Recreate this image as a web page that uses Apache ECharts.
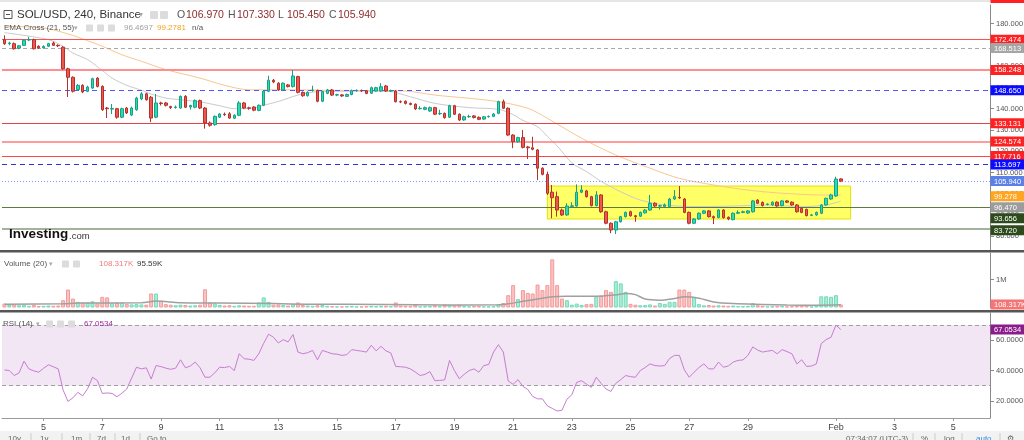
<!DOCTYPE html>
<html><head><meta charset="utf-8">
<script src="https://cdn.jsdelivr.net/npm/echarts@6/dist/echarts.min.js"></script>
<style>html,body{margin:0;padding:0;background:#fff}#c{width:1024px;height:440px}</style>
</head><body><div id="c"></div>
<script>
// ---- DATA (SOL/USD 4h candles, Jan 3 2022 16:00 onward) ----
const opens=[172.5,170.6,170.6,168.5,169.8,172.3,172.5,169.4,168.6,169.4,170.9,169.8,168.9,158.8,154.8,149.0,151.0,148.2,149.7,154.4,150.5,140.3,139.8,140.0,136.0,140.3,137.0,139.5,144.6,147.0,145.4,136.0,142.7,142.7,141.0,140.6,140.3,145.8,140.8,140.7,143.8,140.3,133.3,132.5,136.0,137.4,137.6,135.5,136.9,142.7,140.4,140.8,139.2,141.6,148.2,153.4,152.0,148.8,151.2,150.4,155.1,147.7,146.1,148.6,148.6,143.5,147.2,148.8,146.4,146.5,145.8,146.7,148.5,148.6,148.4,147.3,148.3,148.3,150.7,148.3,148.3,143.3,143.5,142.5,142.1,140.0,139.7,138.9,140.5,137.6,137.8,136.0,141.4,137.4,134.7,136.2,136.6,135.9,135.1,136.2,136.4,137.8,143.3,140.2,127.6,124.5,126.4,122.0,121.6,120.6,112.0,109.1,100.7,98.6,92.3,90.0,94.0,94.2,100.7,101.3,98.6,94.4,99.4,91.5,86.1,82.9,86.8,89.2,91.5,89.6,89.4,91.0,92.3,95.5,94.2,94.0,93.9,97.5,98.3,97.5,91.2,86.1,88.1,90.8,91.9,89.2,88.8,92.3,88.9,87.8,90.8,91.2,90.9,91.5,97.0,95.9,94.9,94.7,96.0,94.4,96.6,96.0,94.7,93.1,92.6,89.8,90.0,90.8,94.7,97.5,98.9,106.97];
const closes=[170.6,170.9,168.2,169.6,172.2,172.6,168.2,168.6,169.3,170.6,169.8,169.6,158.8,154.8,148.2,151.0,147.9,150.2,154.1,150.5,139.5,140.0,140.1,136.0,140.0,138.0,140.3,145.0,147.0,144.2,135.6,142.7,142.4,141.6,140.5,140.8,145.8,140.7,141.5,143.8,140.3,133.3,132.2,136.4,137.5,137.2,135.6,136.9,142.7,140.3,140.2,139.3,141.6,148.2,153.4,152.6,148.8,152.0,150.4,155.4,147.7,146.1,147.7,148.8,143.5,148.0,148.8,146.4,146.6,146.0,146.7,148.5,148.6,148.4,147.2,149.9,149.9,150.3,148.3,148.5,143.3,143.2,142.5,142.0,139.9,140.2,140.5,140.5,137.4,137.8,135.8,141.4,137.4,134.7,136.2,136.3,135.9,135.0,136.2,136.4,137.5,143.3,140.2,127.6,124.5,126.4,121.8,121.6,120.9,112.0,109.1,100.2,98.1,92.3,90.0,94.2,94.3,100.7,101.7,98.6,94.4,99.4,91.5,86.1,82.9,86.8,89.2,91.2,89.6,89.2,91.2,92.3,95.5,94.2,94.3,94.7,97.5,98.6,98.0,91.2,86.1,88.1,90.8,91.9,89.2,88.7,92.3,88.7,88.1,90.8,91.2,91.5,91.9,96.6,95.5,94.4,95.1,96.0,94.2,96.6,96.0,94.7,91.5,91.2,89.7,90.0,91.2,94.7,97.8,99.4,106.9,105.94];
const lows=[170.0,169.8,167.8,168.0,169.5,171.8,167.9,168.2,168.3,169.0,169.5,169.0,158.3,145.5,147.6,148.5,147.3,147.8,149.3,150.0,139.0,135.6,137.5,135.3,135.5,137.5,136.5,139.0,144.0,143.8,133.7,135.5,141.5,141.0,139.8,140.0,140.0,140.3,139.6,140.2,139.8,130.6,131.5,132.0,135.6,136.6,135.2,135.1,136.5,139.8,139.5,138.8,138.8,141.2,147.8,152.0,148.4,148.3,150.0,150.0,147.2,145.6,145.7,148.0,143.0,143.1,146.8,146.0,145.9,145.6,145.5,146.3,148.0,147.9,146.8,146.9,148.0,148.0,147.9,147.8,142.9,142.6,142.0,141.6,139.4,139.6,139.3,138.5,137.0,137.0,135.3,135.6,137.0,134.2,134.3,135.7,135.4,134.6,134.8,135.8,136.0,137.4,139.8,127.2,121.4,124.0,121.3,116.3,120.4,106.4,108.6,99.4,88.4,89.2,89.5,89.6,93.5,93.8,100.3,98.2,94.0,94.0,91.0,85.6,81.4,81.0,86.4,88.8,89.2,86.8,89.0,90.6,91.9,93.8,92.5,93.6,93.5,97.1,97.6,90.8,85.6,85.7,87.7,90.4,88.8,85.7,88.4,88.3,87.5,87.4,90.4,90.8,90.5,91.1,95.1,94.0,94.5,94.3,93.8,94.0,95.6,94.3,91.1,90.8,89.3,89.4,89.6,90.4,94.3,97.1,98.5,105.45];
const highs=[174.5,171.5,171.2,170.0,172.6,173.8,173.0,169.8,169.8,171.0,171.6,170.3,169.4,159.3,155.2,151.6,151.5,150.8,154.6,154.8,151.0,140.8,142.2,140.4,140.5,140.8,141.0,145.6,147.8,147.5,146.0,146.9,143.3,143.2,141.4,141.5,146.2,146.4,141.9,144.4,144.3,140.8,134.0,136.8,138.0,138.2,138.4,137.4,143.6,143.2,140.9,141.2,142.0,148.7,155.5,154.0,152.5,152.4,151.6,158.2,155.5,148.1,148.2,150.8,149.0,148.5,149.3,149.3,147.0,146.9,147.1,149.0,149.1,149.0,148.8,150.4,150.3,152.0,151.2,149.0,148.8,143.9,143.9,142.9,142.5,141.2,141.0,141.0,140.9,139.5,138.2,141.9,141.8,137.8,136.7,137.2,137.0,136.4,136.6,136.8,137.9,143.8,144.3,140.6,128.0,126.8,130.0,122.5,126.8,121.0,112.4,110.4,104.1,101.0,93.0,95.5,96.0,104.4,104.0,101.8,99.0,101.2,99.8,92.0,86.5,87.2,89.6,91.6,92.0,90.0,91.6,92.8,99.4,96.0,94.8,95.4,98.0,101.7,103.6,98.0,91.6,88.5,91.2,92.3,92.3,89.7,92.7,92.7,89.3,91.2,92.2,92.0,92.3,97.0,97.4,96.3,95.5,96.4,96.4,97.0,97.0,96.4,95.1,93.5,93.0,90.4,91.6,95.1,98.2,100.0,108.0,107.33];
const volumesK=[140,90,110,80,100,60,90,50,60,70,60,70,260,640,320,200,170,180,220,150,380,360,150,180,170,130,110,120,110,100,500,500,240,120,100,80,100,90,70,80,100,650,180,150,90,70,80,60,80,70,60,60,180,360,200,100,110,90,70,120,180,90,70,60,80,90,60,50,40,40,50,60,40,40,50,60,50,60,60,50,180,70,60,50,90,40,50,50,80,50,110,90,80,100,60,40,50,60,40,40,50,120,160,440,800,300,620,520,500,820,620,800,1720,800,320,260,100,140,90,120,130,400,420,620,560,940,860,560,130,100,80,90,110,70,160,130,200,200,640,640,560,380,120,80,90,70,80,70,60,70,50,50,60,160,80,60,40,50,50,60,40,50,70,60,80,40,60,400,400,380,440,108.317];
const volMA_K=[[0,120],[12,130],[15,160],[28,170],[31,230],[36,170],[44,160],[55,140],[62,120],[78,110],[90,90],[101,95],[103,130],[106,220],[109,300],[112,380],[115,400],[121,400],[125,450],[127,500],[129,460],[131,300],[134,260],[137,320],[139,380],[142,330],[145,200],[149,140],[155,110],[160,90],[166,80],[171,95.59]];
const rsi=[40.4,40.0,36.7,38.5,46.2,41.1,39.8,38.9,41.5,43.8,42.5,41.1,27.1,19.6,22.0,25.6,23.3,28.0,35.6,33.4,24.9,25.2,24.9,22.7,25.0,27.8,35.0,42.2,41.1,41.8,34.4,43.3,42.6,41.6,40.8,41.6,47.1,41.8,43.0,45.6,41.8,35.6,35.6,38.5,42.2,42.0,42.7,40.0,51.1,47.8,47.5,46.7,51.1,58.0,64.0,62.0,58.2,60.4,58.9,63.8,52.2,51.1,51.8,53.3,47.1,53.3,52.2,51.1,50.8,50.0,50.5,53.8,53.3,52.8,52.2,56.7,53.0,56.0,53.0,51.6,42.7,42.5,42.2,41.1,39.0,36.7,37.5,39.3,33.3,33.5,33.8,46.7,40.0,34.6,37.5,40.0,41.1,38.9,43.3,44.0,52.2,57.1,52.2,33.1,30.9,34.0,29.6,27.5,22.9,21.3,21.3,16.7,15.0,13.3,13.8,21.1,24.0,32.2,33.3,31.0,28.9,35.6,31.5,27.8,26.2,31.6,34.0,36.7,36.0,35.6,40.0,42.0,44.4,43.3,43.0,43.3,48.0,50.0,50.0,40.5,35.6,38.9,42.0,44.4,41.1,41.1,45.6,42.2,43.0,45.6,46.7,47.0,50.0,55.6,53.5,52.2,52.8,53.3,51.1,53.8,52.5,51.1,44.4,47.1,42.7,43.0,44.4,57.8,60.4,62.0,70.0,67.0534];
const ema21=[[0,175.8],[9,172.5],[12,169.4],[14,166.2],[17,163.1],[20,158.0],[22,154.4],[25,151.0],[28,148.7],[30,146.9],[33,145.0],[36,144.2],[40,143.2],[44,141.4],[47,140.0],[51,140.3],[53,141.6],[56,143.4],[60,146.4],[64,148.0],[70,148.2],[78,148.3],[83,145.6],[88,142.5],[95,140.5],[101,139.7],[104,137.2],[106,134.5],[109,131.5],[111,127.0],[113,122.5],[116,114.5],[119,110.4],[122,105.8],[126,100.9],[130,97.0],[135,94.7],[142,93.9],[149,94.2],[156,94.7],[163,93.9],[168,94.7],[171,96.4697]];
const ema55=[[0,178.8],[8,178.0],[13,175.2],[17,172.0],[20,169.4],[24,165.4],[28,162.3],[33,158.4],[40,154.4],[45,151.0],[50,148.9],[57,148.9],[65,148.7],[75,148.5],[82,148.3],[88,146.4],[95,144.9],[101,143.3],[107,140.2],[111,135.5],[118,126.1],[125,118.2],[132,112.0],[138,107.2],[145,104.1],[152,101.7],[159,100.2],[166,99.4],[171,99.2781]];
const levels=[172.474,168.513,158.248,148.650,133.131,124.574,117.716,113.697,105.940,93.656,83.720];
const emaLast=[99.278,96.470];
const zone={fromIdx:111,toIdx:173,top:103.6,bottom:88.1};
const priceTicks=[80,90,100,110,120,130,140,150,160,170,180];
const volTicks=[1000000];
const rsiTicks=[20,40,60];
const rsiBands=[30,70];
const lastRsi=67.0534, lastVol=108317;

// ---- styles ----
const levelStyle=[
 {c:'#ff4f4f',t:'solid',w:1,box:'#ff2121',dy:0},
 {c:'#a8a8a8',t:[4,3],w:1,box:'#a5a5a5',dy:0},
 {c:'#ff8f8f',t:'solid',w:2,box:'#ff2121',dy:0},
 {c:'#5656ff',t:[5,4],w:1.2,box:'#0b0bff',dy:0},
 {c:'#e24444',t:'solid',w:1,box:'#ff2121',dy:0},
 {c:'#ff7a7a',t:'solid',w:1.6,box:'#ff2121',dy:0},
 {c:'#ff4545',t:'solid',w:1,box:'#ff2121',dy:0},
 {c:'#3030d8',t:[5,4],w:1.2,box:'#0b0bff',dy:0},
 {c:'#7f97ff',t:[1,2],w:1,box:'#5b80e8',dy:0},
 {c:'#5d7b3c',t:'solid',w:1,box:'#2c4a1b',dy:11},
 {c:'#a3b29c',t:'solid',w:2,box:'#2c4a1b',dy:2}
];
const emaBoxStyle=[{box:'#ffa51f',dy:1},{box:'#9c9c9c',dy:6}];

const START=Date.UTC(2022,0,3,16), STEP=4*3600*1000, NCAT=202;
const cats=[];
for(let i=0;i<NCAT;i++){const d=new Date(START+i*STEP);
 cats.push(d.getUTCFullYear()+'-'+String(d.getUTCMonth()+1).padStart(2,'0')+'-'+String(d.getUTCDate()).padStart(2,'0')+' '+String(d.getUTCHours()).padStart(2,'0')+':00');}
function showIdx(i){const d=new Date(START+i*STEP);if(d.getUTCHours()!==0)return false;const m=d.getUTCMonth(),day=d.getUTCDate();
 if(m===0)return day%2===1&&day>=5&&day<=29;return day%2===1;}
function lab(v,i){const d=new Date(START+i*STEP);return (d.getUTCMonth()===1&&d.getUTCDate()===1)?'Feb':String(d.getUTCDate());}

const candleData=opens.map((o,i)=>[o,closes[i],lows[i],highs[i]]);
const UPV={color:'#a9ecd7',borderColor:'#74d9b8'}, DNV={color:'#fcc2c2',borderColor:'#f29a9a'};
const volData=volumesK.map((v,i)=>({value:v*1000,itemStyle:(closes[i]>=opens[i])?UPV:DNV}));

const FONT='"Liberation Sans", Arial, sans-serif';
const yBase={position:'right',scale:true,splitLine:{show:false},axisLine:{show:true,lineStyle:{color:'#8a8a8a'}},
 axisTick:{show:true,length:4,lineStyle:{color:'#8a8a8a'}},axisLabel:{color:'#555',fontSize:7.5,fontFamily:FONT,margin:6}};
const xBase={type:'category',data:cats,boundaryGap:true,axisLine:{show:false},axisTick:{show:false},axisLabel:{show:false},splitLine:{show:false}};
const gridBase={left:2,right:34,containLabel:false,outerBoundsMode:'none'};

const chart=echarts.init(document.getElementById('c'),null,{renderer:'canvas'});
chart.setOption({
 animation:false,
 backgroundColor:'#fff',
 grid:[Object.assign({top:5,height:245},gridBase),Object.assign({top:253,height:54.5},gridBase),Object.assign({top:313,height:105},gridBase)],
 xAxis:[Object.assign({},xBase,{gridIndex:0}),Object.assign({},xBase,{gridIndex:1}),
  Object.assign({},xBase,{gridIndex:2,axisLine:{show:true,lineStyle:{color:'#9a9a9a'}},
   axisTick:{show:true,interval:showIdx,alignWithLabel:true,length:3,lineStyle:{color:'#9a9a9a'}},
   axisLabel:{show:true,interval:showIdx,formatter:lab,color:'#444',fontSize:9,fontFamily:FONT,margin:5}})],
 yAxis:[Object.assign({},yBase,{gridIndex:0,min:73.5,max:188.8,axisLabel:Object.assign({},yBase.axisLabel,{customValues:priceTicks,formatter:v=>v.toFixed(3)}),axisTick:Object.assign({},yBase.axisTick,{customValues:priceTicks})}),
  Object.assign({},yBase,{gridIndex:1,min:0,max:1946000,axisLabel:Object.assign({},yBase.axisLabel,{customValues:volTicks,formatter:v=>(v/1e6)+'M'}),axisTick:Object.assign({},yBase.axisTick,{customValues:volTicks})}),
  Object.assign({},yBase,{gridIndex:2,min:8.67,max:78,axisLabel:Object.assign({},yBase.axisLabel,{customValues:rsiTicks,formatter:v=>v.toFixed(4)}),axisTick:Object.assign({},yBase.axisTick,{customValues:rsiTicks})})],
 series:[
  {type:'candlestick',xAxisIndex:0,yAxisIndex:0,data:candleData,barWidth:3,z:5,
   itemStyle:{color:'#2bd9b4',color0:'#ec5750',borderColor:'#18a085',borderColor0:'#b5322c',borderWidth:1},
   markLine:{silent:true,symbol:['none','none'],label:{show:false},animation:false,
    data:levels.map((v,i)=>({yAxis:v,lineStyle:{color:levelStyle[i].c,type:levelStyle[i].t,width:levelStyle[i].w}}))},
   markArea:{silent:true,itemStyle:{color:'rgba(255,255,0,0.6)',borderColor:'#e3e300',borderWidth:1},
    data:[[{xAxis:cats[zone.fromIdx],yAxis:zone.top},{xAxis:cats[zone.toIdx],yAxis:zone.bottom}]]}},
  {type:'line',xAxisIndex:0,yAxisIndex:0,data:ema21,symbol:'none',smooth:0.3,z:4,lineStyle:{color:'#cacaca',width:1}},
  {type:'line',xAxisIndex:0,yAxisIndex:0,data:ema55,symbol:'none',smooth:0.3,z:4,lineStyle:{color:'#f9c690',width:1}},
  {type:'bar',xAxisIndex:1,yAxisIndex:1,data:volData,barWidth:4,itemStyle:{borderWidth:1}},
  {type:'line',xAxisIndex:1,yAxisIndex:1,data:volMA_K.map(p=>[p[0],p[1]*1000]),symbol:'none',smooth:0.3,z:4,lineStyle:{color:'#a0a0a0',width:1.5}},
  {type:'line',xAxisIndex:2,yAxisIndex:2,data:rsi,symbol:'none',z:4,lineStyle:{color:'#c67ed0',width:1},
   markArea:{silent:true,itemStyle:{color:'#f2e5f4'},data:[[{yAxis:rsiBands[0]},{yAxis:rsiBands[1]}]]},
   markLine:{silent:true,symbol:['none','none'],label:{show:false},lineStyle:{color:'#a0a0a0',type:[4,3],width:1},
    data:rsiBands.map(v=>({yAxis:v}))}}
 ]
});

// ---- graphic overlays (headers, axis value boxes, separators) ----
const g=[];
function txt(x,y,t,fill,size,weight){g.push({type:'text',silent:true,z:50,style:{x:x,y:y,text:t,fill:fill,font:(weight||'normal')+' '+size+'px '+FONT,verticalAlign:'middle'}});}
function icon(x,y,s){g.push({type:'rect',silent:true,z:50,shape:{x:x,y:y-s/2,width:s,height:s,r:1},style:{fill:'#dcdcdc'}});}
function box(y,text,fill){g.push({type:'rect',silent:true,z:60,shape:{x:990.5,y:y-5,width:40,height:10},style:{fill:fill}});
 g.push({type:'text',silent:true,z:61,style:{x:994,y:y+0.5,text:text,fill:'#fff',font:'7.5px '+FONT,verticalAlign:'middle'}});}
// separators
g.push({type:'rect',silent:true,z:40,shape:{x:0,y:250,width:1024,height:2.5},style:{fill:'#555'}});
g.push({type:'rect',silent:true,z:40,shape:{x:0,y:310,width:1024,height:2.5},style:{fill:'#555'}});
g.push({type:'rect',silent:true,z:40,shape:{x:0,y:0,width:1024,height:2},style:{fill:'#e6e6e6'}});
g.push({type:'rect',silent:true,z:41,shape:{x:990.5,y:0,width:34,height:3},style:{fill:'#ff2121'}});
// header line 1
g.push({type:'rect',silent:true,z:50,shape:{x:4,y:10.5,width:8,height:8},style:{fill:'#fff',stroke:'#555',lineWidth:1}});
g.push({type:'line',silent:true,z:51,shape:{x1:6,y1:14.5,x2:10,y2:14.5},style:{stroke:'#555',lineWidth:1}});
txt(17,15,'SOL/USD, 240, Binance','#333',11.5);
txt(139,15,'▾','#aaa',8);
icon(150,15,8);icon(160,15,8);
const ohlcHead=[['O','106.970',177],['H','107.330',228],['L','105.450',278],['C','105.940',329]];
ohlcHead.forEach(a=>{txt(a[2],15,a[0],'#555',10.5);txt(a[2]+9,15,a[1],'#8b2c2c',10.5);});
// header line 2
txt(4,28,'EMA Cross (21, 55)','#555',8);
txt(74,28,'▾','#aaa',7);
icon(86,28,7);icon(97,28,7);icon(108,28,7);
txt(124,28,'96.4697','#9e9e9e',8);
txt(157,28,'99.2781','#f5a21c',8);
txt(192,28,'n/a','#555',8);
// volume header
txt(4,264,'Volume (20)','#555',8);
txt(49,264,'▾','#aaa',7);
icon(62,264,7);icon(73,264,7);
txt(99,264,'108.317K','#f07a7a',8);
txt(137,264,'95.59K','#333',8);
// RSI header
txt(3,324,'RSI (14)','#555',8);
txt(36,324,'▾','#aaa',7);
icon(46,324,7);icon(57,324,7);icon(68,324,7);
txt(84,324,'67.0534','#9a2a9a',8);
// watermark
txt(9,234,'Investing','#111',13.5,'bold');
txt(69,236,'.com','#333',9.5);
// bottom toolbar
g.push({type:'rect',silent:true,z:40,shape:{x:0,y:431,width:1024,height:9},style:{fill:'#f2f2f2'}});
[['10y',8],['1y',40],['1m',71],['7d',97],['1d',121],['Go to...',147]].forEach(a=>txt(a[1],438.5,a[0],'#666',8));
[31,62,90,115,140].forEach(x=>g.push({type:'line',silent:true,z:41,shape:{x1:x,y1:433,x2:x,y2:440},style:{stroke:'#ccc'}}));
txt(846,438.5,'07:34:07 (UTC-3)','#666',8);txt(921,438.5,'%','#666',8);txt(944,438.5,'log','#666',8);txt(976,438.5,'auto','#2a8be0',8);txt(1007,438.5,'⚙','#666',8);
[913,935,962,1000].forEach(x=>g.push({type:'line',silent:true,z:41,shape:{x1:x,y1:433,x2:x,y2:440},style:{stroke:'#ccc'}}));
// axis value boxes
levels.forEach((v,i)=>{const y=chart.convertToPixel({yAxisIndex:0},v)+levelStyle[i].dy;box(y,v.toFixed(3),levelStyle[i].box);});
emaLast.forEach((v,i)=>{const y=chart.convertToPixel({yAxisIndex:0},v)+emaBoxStyle[i].dy;box(y,v.toFixed(3),emaBoxStyle[i].box);});
box(chart.convertToPixel({yAxisIndex:1},lastVol),'108.317K','#f47575');
box(chart.convertToPixel({yAxisIndex:2},lastRsi),lastRsi.toFixed(4),'#8b1c8b');
chart.setOption({graphic:g});
</script></body></html>
